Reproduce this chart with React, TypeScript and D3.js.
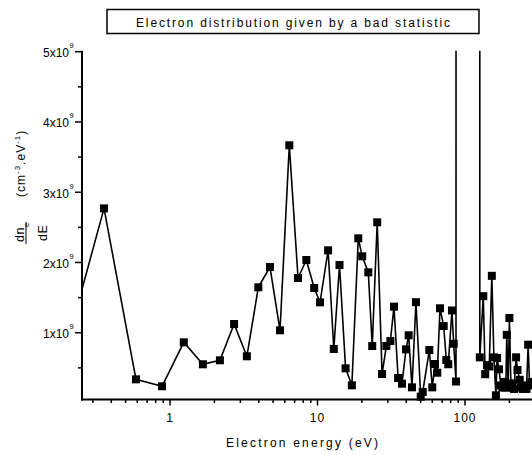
import React from "react";
import * as d3 from "d3";

// Electron energy (eV) of each point
const energies = [
  0.178, 0.357, 0.588, 0.883, 1.24, 1.67, 2.18, 2.72, 3.32, 3.97, 4.76, 5.57, 6.44,
  7.38, 8.4, 9.5, 10.4, 11.8, 12.9, 14.1, 15.5, 17.1, 18.9, 20.1, 22.1, 23.5, 25.4,
  27.4, 29.3, 31.2, 33.0, 35.2, 37.4, 39.8, 41.5, 43.7, 46.5, 50.1, 51.7, 57.3, 60.0,
  62.6, 64.9, 67.7, 71.7, 74.7, 77.0, 81.6, 83.8, 86.9,
  88, 95, 104, 114, 125,
  126, 133, 137, 141, 146, 152, 157, 162, 165, 170, 175, 179, 184, 189, 192, 196, 200,
  205, 210, 215, 222, 227, 235, 240, 247, 254, 261, 268, 274, 282,
];

// dn_e/dE in units of 1e9 cm^-3.eV^-1
const densities = [
  0.44, 2.77, 0.337, 0.238, 0.864, 0.551, 0.608, 1.124, 0.665, 1.647, 1.936, 1.035, 3.668,
  1.779, 2.035, 1.637, 1.433, 2.173, 0.769, 1.964, 0.494, 0.252, 2.344, 2.088, 1.86, 0.811, 2.572,
  0.413, 0.811, 0.882, 1.371, 0.356, 0.275, 0.764, 0.964, 0.223, 1.435, 0.09, 0.157, 0.754, 0.223,
  0.555, 0.431, 1.348, 1.096, 0.612, 0.552, 1.317, 0.844, 0.306,
  200, 150, 180, 120, 200,
  0.65, 1.52, 0.41, 0.54, 0.52, 1.81, 0.65, 0.11, 0.64, 0.48, 0.25, 0.22, 0.3, 0.22, 0.97, 0.25, 1.21,
  0.22, 0.28, 0.2, 0.65, 0.47, 0.33, 0.22, 0.2, 0.25, 0.2, 0.83, 0.25, 0.3,
];

const xMajor = [1, 10, 100];
const xMinor = [0.3, 0.4, 0.5, 0.6, 0.7, 0.8, 0.9, 2, 3, 4, 5, 6, 7, 8, 9, 20, 30, 40, 50, 60, 70, 80, 90, 200, 300];
const yMajor = [1, 2, 3, 4, 5];
const yMinor = [0.5, 1.5, 2.5, 3.5, 4.5];

const W = 532;
const H = 455;
const font = "Arial, 'Liberation Sans', sans-serif";

export default function App() {
  const left = 82;
  const top = 51.7;
  const bottom = 399.5;

  // 1 at x=170, one decade = 147.5 px
  const px = (e: number) => 170 + 147.5 * Math.log10(e);
  const x = d3.scaleLog().domain([0.25, 300]).range([px(0.25), px(300)]);
  const y = d3.scaleLinear().domain([0.05, 5]).range([bottom, top]);

  const points = energies.map((e, i) => [e, densities[i]] as [number, number]);
  const line = d3.line<[number, number]>()
    .x(d => x(d[0]))
    .y(d => y(d[1]));

  const m = 8; // marker size

  return (
    <svg width={W} height={H} style={{ position: "absolute", left: 0, top: 0, background: "#fff" }}>
      <defs>
        <clipPath id="plot">
          <rect x={left} y={top - 1} width={W - left + 20} height={bottom - top + 6} />
        </clipPath>
      </defs>

      {/* title box */}
      <rect x={107} y={9.5} width={372} height={24} fill="none" stroke="#000" strokeWidth={1.5} />
      <text x={293} y={26.5} fontFamily={font} fontSize={12} textAnchor="middle"
        textLength={314} lengthAdjust="spacing">
        Electron distribution given by a bad statistic
      </text>

      {/* data */}
      <g clipPath="url(#plot)">
        <path d={line(points) ?? ""} fill="none" stroke="#000" strokeWidth={1.6} />
        {points.filter(d => d[1] < 6).map((d, i) => (
          <rect key={i} x={x(d[0]) - m / 2} y={y(d[1]) - m / 2} width={m} height={m} fill="#000" />
        ))}
      </g>

      {/* axes */}
      <line x1={left} x2={left} y1={top - 1} y2={bottom + 1} stroke="#000" strokeWidth={2} />
      <line x1={left - 1} x2={W} y1={bottom} y2={bottom} stroke="#000" strokeWidth={2} />

      {yMajor.map(v => (
        <g key={v}>
          <line x1={left - 7} x2={left} y1={y(v)} y2={y(v)} stroke="#000" strokeWidth={1.5} />
          <text x={left - 13} y={y(v) + 5.5} fontFamily={font} fontSize={12} textAnchor="end">
            {v}x10
          </text>
          <text x={left - 12.5} y={y(v) - 3.5} fontFamily={font} fontSize={7.5} textAnchor="start">
            9
          </text>
        </g>
      ))}
      {yMinor.map(v => (
        <line key={v} x1={left - 4} x2={left} y1={y(v)} y2={y(v)} stroke="#000" strokeWidth={1.5} />
      ))}

      {xMajor.map(v => (
        <g key={v}>
          <line x1={x(v)} x2={x(v)} y1={bottom} y2={bottom + 6} stroke="#000" strokeWidth={1.5} />
          <text x={x(v)} y={421.5} fontFamily={font} fontSize={12} textAnchor="middle" letterSpacing={1}>
            {v}
          </text>
        </g>
      ))}
      {xMinor.map(v => (
        <line key={v} x1={x(v)} x2={x(v)} y1={bottom} y2={bottom + 3.5} stroke="#000" strokeWidth={1.5} />
      ))}

      <text x={302} y={447} fontFamily={font} fontSize={12} textAnchor="middle"
        textLength={152} lengthAdjust="spacing">
        Electron energy (eV)
      </text>

      {/* y axis title */}
      <g transform="rotate(-90)" fontFamily={font} fill="#000">
        <text x={-242} y={24} fontSize={12.5} letterSpacing={0.5}>dn</text>
        <text x={-227} y={28.5} fontSize={7.5}>e</text>
        <line x1={-244} x2={-222} y1={26} y2={26} stroke="#000" strokeWidth={1} />
        <text x={-241} y={46.5} fontSize={12.5} letterSpacing={0.5}>dE</text>
        <text x={-197} y={25} fontSize={12} letterSpacing={1}>
          (cm<tspan fontSize={8} dy={-5}>-3</tspan><tspan dy={5}>.eV</tspan>
          <tspan fontSize={8} dy={-5}>-1</tspan><tspan dy={5}>)</tspan>
        </text>
      </g>
    </svg>
  );
}
